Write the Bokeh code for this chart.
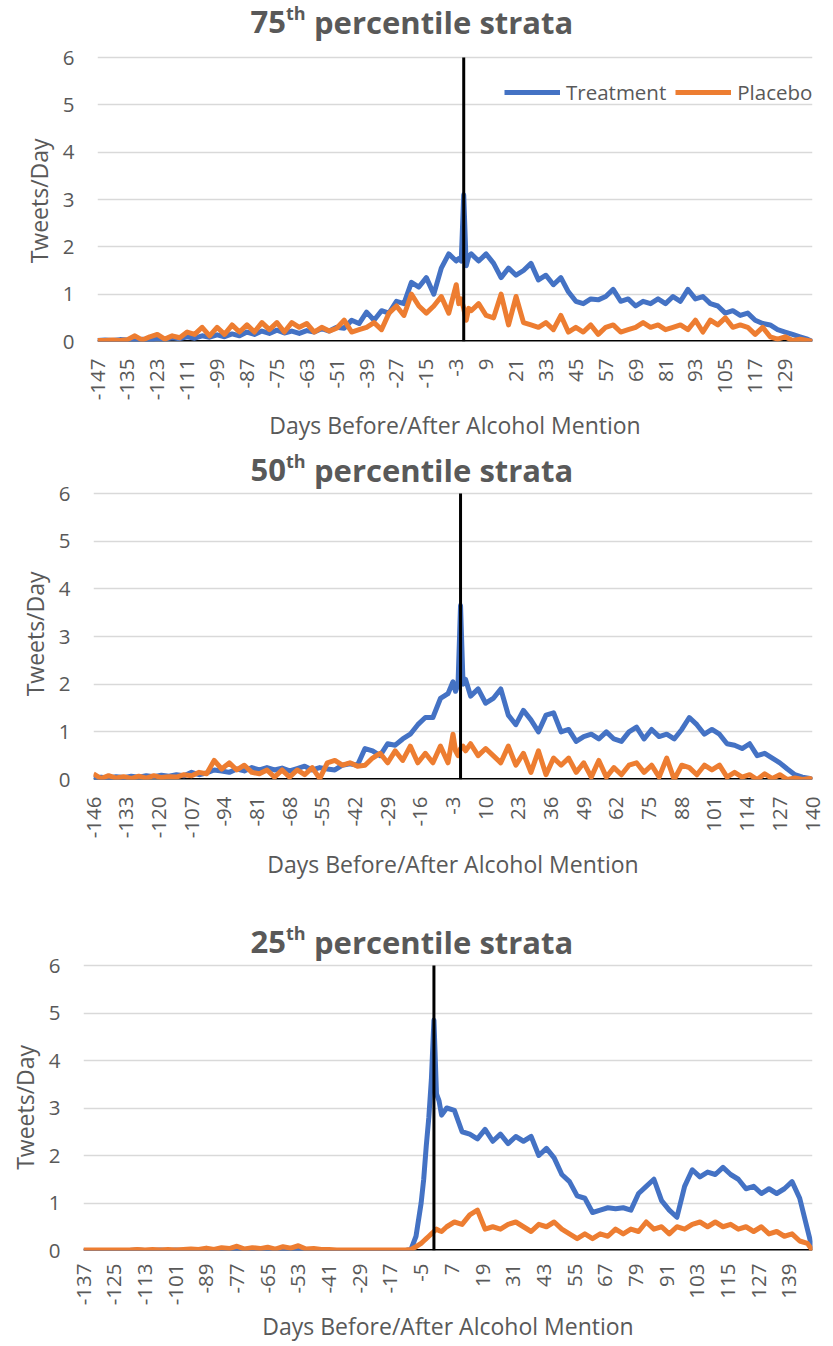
import math
from bokeh.plotting import figure
from bokeh.models import Range1d, FixedTicker, Span, Label, Legend, LegendItem
from bokeh.layouts import column
from bokeh.embed import file_html
from bokeh.resources import INLINE

BLUE = "#4472C4"
ORANGE = "#ED7D31"
GRAY = "#595959"
GRID = "#D9D9D9"
FONT = "Open Sans"
NBSP = "\u00a0"

alcohol_day = 0
x_title = "Days Before/After Alcohol Mention"
y_title = "Tweets/Day"

# ---------------- 75th percentile strata ----------------
days_75 = list(range(-147, -2, 3)) + [-2, -1, 0, 1, 2] + list(range(3, 139, 3)) + [140]
treat_75 = [
    0.02, 0.03, 0.02, 0.04, 0.03, 0.02, 0.05, 0.03, 0.06, 0.05,
    0.08, 0.06, 0.10, 0.07, 0.12, 0.09, 0.14, 0.10, 0.16, 0.12,
    0.20, 0.15, 0.22, 0.17, 0.24, 0.18, 0.22, 0.17, 0.23, 0.20,
    0.27, 0.22, 0.30, 0.28, 0.45, 0.38, 0.62, 0.45, 0.65, 0.60,
    0.85, 0.80, 1.25, 1.15, 1.35, 1.00, 1.55, 1.85, 1.70,
    1.75, 1.70, 3.10, 1.60, 1.80,
    1.85, 1.70, 1.85, 1.65, 1.35, 1.55, 1.40, 1.50, 1.65, 1.30,
    1.40, 1.20, 1.35, 1.05, 0.85, 0.80, 0.90, 0.88, 0.95, 1.10,
    0.85, 0.90, 0.75, 0.85, 0.80, 0.90, 0.80, 0.95, 0.85, 1.10,
    0.90, 0.95, 0.80, 0.75, 0.60, 0.65, 0.55, 0.60, 0.45, 0.38,
    0.35, 0.25, 0.20, 0.15, 0.10, 0.05,
    0.00,
]
plac_75 = [
    0.02, 0.02, 0.03, 0.02, 0.04, 0.12, 0.03, 0.10, 0.15, 0.05,
    0.12, 0.08, 0.20, 0.15, 0.30, 0.12, 0.30, 0.15, 0.35, 0.20,
    0.35, 0.20, 0.40, 0.25, 0.40, 0.20, 0.40, 0.30, 0.38, 0.20,
    0.30, 0.22, 0.28, 0.45, 0.20, 0.25, 0.30, 0.40, 0.25, 0.60,
    0.75, 0.55, 1.00, 0.75, 0.60, 0.75, 0.95, 0.60, 1.20,
    0.80, 0.90, 0.70, 0.45, 0.70,
    0.65, 0.80, 0.55, 0.50, 1.00, 0.35, 0.95, 0.40, 0.35, 0.30,
    0.40, 0.25, 0.55, 0.20, 0.30, 0.20, 0.35, 0.15, 0.30, 0.35,
    0.20, 0.25, 0.30, 0.40, 0.30, 0.35, 0.25, 0.30, 0.35, 0.25,
    0.45, 0.20, 0.45, 0.35, 0.50, 0.30, 0.35, 0.30, 0.15, 0.30,
    0.10, 0.05, 0.10, 0.02, 0.05, 0.02,
    0.00,
]
ticks_75 = list(range(-147, 141, 12))

# ---------------- 50th percentile strata ----------------
days_50 = list(range(-146, -4, 3)) + [-3, -2, -1, 0, 1, 2] + list(range(4, 140, 3)) + [140]
treat_50 = [
    0.03, 0.05, 0.03, 0.06, 0.04, 0.07, 0.05, 0.08, 0.06, 0.09,
    0.07, 0.10, 0.08, 0.15, 0.10, 0.14, 0.20, 0.18, 0.15, 0.22,
    0.18, 0.25, 0.20, 0.25, 0.20, 0.24, 0.18, 0.23, 0.28, 0.20,
    0.25, 0.22, 0.20, 0.30, 0.33, 0.30, 0.65, 0.60, 0.50, 0.75,
    0.72, 0.85, 0.95, 1.15, 1.30, 1.30, 1.70, 1.80,
    2.05, 1.85, 2.00, 3.65, 2.00, 2.10,
    1.75, 1.90, 1.60, 1.70, 1.90, 1.35, 1.15, 1.45, 1.25, 1.00,
    1.35, 1.40, 1.00, 1.05, 0.80, 0.90, 0.95, 0.85, 1.00, 0.85,
    0.80, 1.00, 1.10, 0.85, 1.05, 0.90, 0.95, 0.85, 1.05, 1.30,
    1.15, 0.95, 1.05, 0.95, 0.75, 0.72, 0.65, 0.75, 0.50, 0.55,
    0.45, 0.35, 0.22, 0.10, 0.05, 0.02,
    0.00,
]
plac_50 = [
    0.12, 0.02, 0.08, 0.03, 0.06, 0.02, 0.07, 0.03, 0.08, 0.04,
    0.06, 0.05, 0.10, 0.08, 0.15, 0.12, 0.40, 0.22, 0.35, 0.20,
    0.30, 0.15, 0.12, 0.20, 0.05, 0.20, 0.05, 0.20, 0.10, 0.25,
    0.02, 0.35, 0.40, 0.30, 0.35, 0.28, 0.30, 0.45, 0.55, 0.35,
    0.60, 0.40, 0.70, 0.35, 0.55, 0.35, 0.70, 0.35,
    0.95, 0.60, 0.50, 0.65, 0.70, 0.60,
    0.75, 0.50, 0.65, 0.50, 0.35, 0.70, 0.30, 0.55, 0.15, 0.60,
    0.10, 0.45, 0.30, 0.45, 0.15, 0.35, 0.05, 0.40, 0.05, 0.25,
    0.10, 0.30, 0.35, 0.15, 0.30, 0.05, 0.45, 0.00, 0.30, 0.25,
    0.10, 0.30, 0.20, 0.30, 0.05, 0.15, 0.05, 0.10, 0.00, 0.12,
    0.02, 0.10, 0.00, 0.03, 0.00, 0.02,
    0.00,
]
ticks_50 = list(range(-146, 141, 13))

# ---------------- 25th percentile strata ----------------
days_25 = list(range(-137, -10, 3)) + [-9, -7, -5, -4, -3, -2, -1, 0, 1, 2, 3] + list(range(5, 146, 3)) + [146, 148]
treat_25 = [
    0.00, 0.00, 0.00, 0.00, 0.00, 0.00, 0.00, 0.01, 0.00, 0.00,
    0.01, 0.00, 0.01, 0.00, 0.00, 0.00, 0.01, 0.00, 0.00, 0.01,
    0.02, 0.00, 0.01, 0.00, 0.02, 0.01, 0.00, 0.02, 0.01, 0.00,
    0.00, 0.00, 0.00, 0.00, 0.00, 0.00, 0.00, 0.00, 0.00, 0.00,
    0.00, 0.00, 0.00,
    0.02, 0.30, 1.00, 1.50, 2.20, 2.80, 3.60, 4.85, 3.30, 3.15, 2.85,
    3.00, 2.95, 2.50, 2.45, 2.35, 2.55, 2.30, 2.45, 2.25, 2.40,
    2.30, 2.40, 2.00, 2.15, 1.95, 1.60, 1.45, 1.15, 1.10, 0.80,
    0.85, 0.90, 0.88, 0.90, 0.85, 1.20, 1.35, 1.50, 1.05, 0.85,
    0.70, 1.35, 1.70, 1.55, 1.65, 1.60, 1.75, 1.60, 1.50, 1.30,
    1.35, 1.20, 1.30, 1.20, 1.30, 1.45, 1.10,
    0.45, 0.02,
]
plac_25 = [
    0.01, 0.01, 0.01, 0.01, 0.01, 0.01, 0.01, 0.02, 0.01, 0.02,
    0.01, 0.02, 0.01, 0.02, 0.03, 0.02, 0.05, 0.02, 0.06, 0.04,
    0.09, 0.03, 0.06, 0.04, 0.07, 0.03, 0.08, 0.05, 0.10, 0.03,
    0.04, 0.02, 0.02, 0.01, 0.01, 0.01, 0.01, 0.01, 0.01, 0.01,
    0.01, 0.01, 0.01,
    0.02, 0.08, 0.15, 0.20, 0.25, 0.30, 0.35, 0.40, 0.45, 0.42, 0.40,
    0.50, 0.60, 0.55, 0.75, 0.85, 0.45, 0.50, 0.45, 0.55, 0.60,
    0.50, 0.40, 0.55, 0.50, 0.60, 0.45, 0.35, 0.25, 0.35, 0.25,
    0.35, 0.30, 0.45, 0.35, 0.45, 0.40, 0.60, 0.45, 0.50, 0.35,
    0.50, 0.45, 0.55, 0.60, 0.50, 0.60, 0.50, 0.55, 0.45, 0.50,
    0.40, 0.50, 0.35, 0.40, 0.30, 0.35, 0.20,
    0.15, 0.00,
]
ticks_25 = list(range(-137, 149, 12))


def make_chart(days, treat, plac, ticks, x0, x1, num, fig_top, y6_page,
               y0_page, height, frame_left, title_base_page, ytitle_pad,
               lab_standoff, title_standoff, legend=False):
    frame_h = y0_page - fig_top               # frame covers title area too
    ppu = (y0_page - y6_page) / 6.0
    y_end = 6 + (y6_page - fig_top) / ppu
    border_bottom = height - frame_h
    p = figure(width=825, height=height, x_range=Range1d(x0, x1),
               y_range=Range1d(0, y_end), output_backend="svg",
               toolbar_location=None, title=None,
               min_border_left=frame_left, min_border_right=13,
               min_border_top=0, min_border_bottom=border_bottom)
    p.frame_align = False
    p.outline_line_color = None
    p.background_fill_color = "white"
    p.border_fill_color = "white"

    p.xgrid.visible = False
    p.ygrid.grid_line_color = GRID
    p.ygrid.grid_line_width = 1.5

    # y axis
    ya = p.yaxis[0]
    ya.ticker = FixedTicker(ticks=[0, 1, 2, 3, 4, 5, 6])
    ya.axis_line_color = None
    ya.major_tick_line_color = None
    ya.minor_tick_line_color = None
    ya.major_tick_out = 0
    ya.major_tick_in = 0
    ya.minor_tick_out = 0
    ya.minor_tick_in = 0
    ya.major_label_standoff = 23
    ya.major_label_text_font = FONT
    ya.major_label_text_font_size = "20.5px"
    ya.major_label_text_color = GRAY
    ya.axis_label = y_title + NBSP * ytitle_pad
    ya.axis_label_standoff = 5
    ya.axis_label_text_font = FONT
    ya.axis_label_text_font_size = "23px"
    ya.axis_label_text_font_style = "normal"
    ya.axis_label_text_color = GRAY

    # x axis
    xa = p.xaxis[0]
    xa.ticker = FixedTicker(ticks=ticks)
    xa.major_label_overrides = {t: str(t) for t in ticks}
    xa.axis_line_color = None
    xa.major_tick_line_color = None
    xa.minor_tick_line_color = None
    xa.major_tick_out = 0
    xa.major_tick_in = 0
    xa.minor_tick_out = 0
    xa.minor_tick_in = 0
    xa.major_label_orientation = math.pi / 2
    xa.major_label_standoff = lab_standoff
    xa.major_label_text_font = FONT
    xa.major_label_text_font_size = "20.5px"
    xa.major_label_text_color = GRAY
    xa.axis_label = x_title
    xa.axis_label_standoff = title_standoff
    xa.axis_label_text_font = FONT
    xa.axis_label_text_font_size = "23px"
    xa.axis_label_text_font_style = "normal"
    xa.axis_label_text_color = GRAY

    # baseline (under the series)
    p.add_layout(Span(location=0, dimension="width", line_color="black",
                      line_width=3, level="underlay"))

    rb = p.line(days, treat, line_color=BLUE, line_width=5, line_join="round")
    ro = p.line(days, plac, line_color=ORANGE, line_width=5, line_join="round")

    # alcohol-mention marker from 0 to 6
    p.segment(x0=[alcohol_day], y0=[0], x1=[alcohol_day], y1=[6],
              line_color="black", line_width=3)

    # title with superscript (inside the tall frame)
    xth = 285.5 - frame_left
    yb = y0_page - title_base_page
    common = dict(x_units="screen", y_units="screen", text_font=FONT,
                  text_font_style="bold", text_color=GRAY,
                  text_baseline="alphabetic")
    p.add_layout(Label(x=xth, y=yb, text=num, text_align="right",
                       text_font_size="31px", **common))
    p.add_layout(Label(x=xth, y=yb + 9, text="th", text_align="left",
                       text_font_size="18px", **common))
    p.add_layout(Label(x=xth + 28, y=yb, text="percentile strata",
                       text_align="left", text_font_size="31px", **common))

    if legend:
        lg = Legend(items=[LegendItem(label="Treatment", renderers=[rb]),
                           LegendItem(label="Placebo", renderers=[ro])],
                    orientation="horizontal",
                    location=(504 - frame_left, y0_page - 92 - 14),
                    glyph_width=56, glyph_height=28, label_height=28,
                    label_standoff=6, spacing=9, padding=0, margin=0,
                    background_fill_alpha=0, border_line_alpha=0,
                    label_text_font=FONT, label_text_font_size="20.5px",
                    label_text_color=GRAY)
        p.add_layout(lg)
    return p


p1 = make_chart(days_75, treat_75, plac_75, ticks_75, -147, 140, "75",
                fig_top=0, y6_page=57, y0_page=341, height=446, frame_left=97,
                title_base_page=21.5, ytitle_pad=10,
                lab_standoff=17, title_standoff=6, legend=True)
p2 = make_chart(days_50, treat_50, plac_50, ticks_50, -146, 140, "50",
                fig_top=446, y6_page=493, y0_page=779, height=464, frame_left=93,
                title_base_page=469.3, ytitle_pad=7,
                lab_standoff=17, title_standoff=7)
p3 = make_chart(days_25, treat_25, plac_25, ticks_25, -137, 148, "25",
                fig_top=910, y6_page=965, y0_page=1250, height=436, frame_left=83,
                title_base_page=941, ytitle_pad=9,
                lab_standoff=13, title_standoff=2)

layout = column(p1, p2, p3, spacing=0)
open("out.html", "w").write(file_html(layout, INLINE))
